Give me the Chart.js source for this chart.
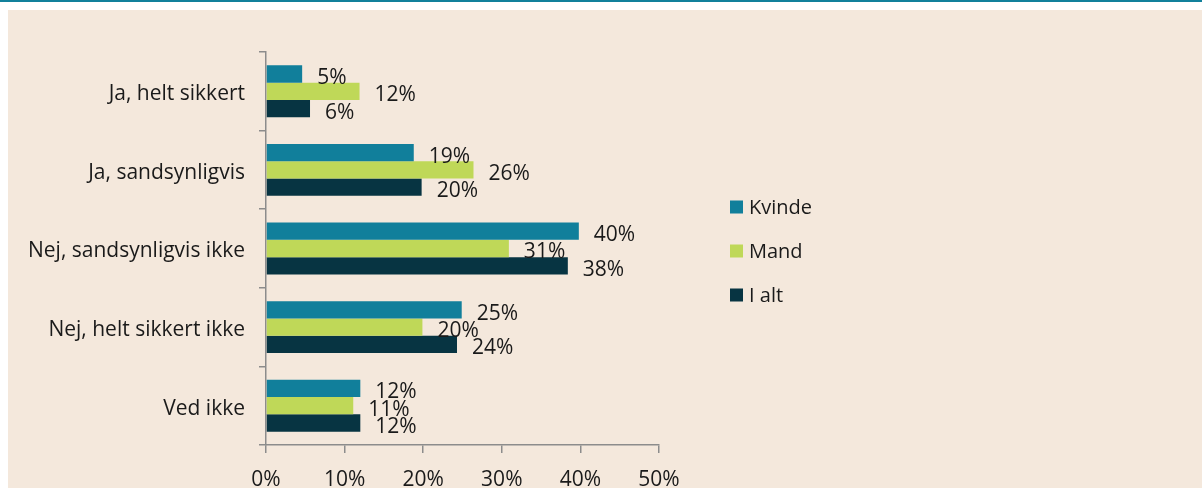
<!DOCTYPE html>
<html>
<head>
<meta charset="utf-8">
<script src="https://cdn.jsdelivr.net/npm/chart.js@4/dist/chart.umd.min.js"></script>
<style>
  html, body { margin: 0; padding: 0; background: #ffffff; }
  #topline { position: absolute; left: 0; top: 0; width: 1202px; height: 2px; background: #11809b; }
  #panel { position: absolute; left: 8px; top: 10px; width: 1194px; height: 478px; background: #f4e8dc; }
  canvas { display: block; }
</style>
</head>
<body>
<div id="topline"></div>
<div id="panel"><canvas id="chart" width="1194" height="478"></canvas></div>
<script>
// answers and shares (%)
const categories = ["Ja, helt sikkert", "Ja, sandsynligvis", "Nej, sandsynligvis ikke", "Nej, helt sikkert ikke", "Ved ikke"];
const seriesNames = ["Kvinde", "Mand", "I alt"];
const kvinde = [4.6, 18.8, 39.8, 24.9, 12.0];
const mand = [11.9, 26.4, 30.9, 19.9, 11.1];
const iAlt = [5.6, 19.8, 38.4, 24.3, 12.0];
const xTicks = [0, 10, 20, 30, 40, 50];

const COLORS = ["#117f9b", "#bfd858", "#073442"];
const FONT = "'Open Sans', 'Noto Sans', sans-serif";
const TEXT = "#1a1a1a";
const AXIS = "#8c8c8c";

// value labels right of each bar end
const barLabels = {
  id: "barLabels",
  afterDatasetsDraw(chart) {
    const { ctx } = chart;
    ctx.save();
    ctx.font = `21px ${FONT}`;
    ctx.fillStyle = TEXT;
    ctx.textAlign = "left";
    ctx.textBaseline = "middle";
    chart.data.datasets.forEach((ds, i) => {
      chart.getDatasetMeta(i).data.forEach((bar, j) => {
        ctx.fillText(`${Math.round(ds.data[j])}%`, bar.x + 15, bar.y + 4);
      });
    });
    ctx.restore();
  },
};

// legend stacked to the right of the plot
const sideLegend = {
  id: "sideLegend",
  afterDraw(chart) {
    const { ctx } = chart;
    const x = 722;
    const y0 = 197;
    const step = 44;
    ctx.save();
    ctx.font = `20px ${FONT}`;
    ctx.textAlign = "left";
    ctx.textBaseline = "middle";
    chart.data.datasets.forEach((ds, i) => {
      const y = y0 + i * step;
      ctx.fillStyle = ds.backgroundColor;
      ctx.fillRect(x, y - 6.5, 13, 13);
      ctx.fillStyle = TEXT;
      ctx.fillText(ds.label, x + 19, y + 1);
    });
    ctx.restore();
  },
};

new Chart(document.getElementById("chart"), {
  type: "bar",
  data: {
    labels: categories,
    datasets: [kvinde, mand, iAlt].map((data, i) => ({
      label: seriesNames[i],
      data,
      backgroundColor: COLORS[i],
      borderWidth: 0,
      categoryPercentage: 0.66,
      barPercentage: 1,
    })),
  },
  options: {
    indexAxis: "y",
    responsive: false,
    animation: false,
    layout: { padding: { top: 42, right: 543, left: 0, bottom: 0 } },
    plugins: {
      legend: { display: false },
      tooltip: { enabled: false },
    },
    scales: {
      x: {
        min: 0,
        max: 50,
        afterBuildTicks(scale) {
          scale.ticks = xTicks.map((value) => ({ value }));
        },
        afterFit(scale) {
          scale.height = 43;
        },
        ticks: {
          color: TEXT,
          font: { family: FONT, size: 21 },
          padding: 14,
          callback: (v) => `${v}%`,
        },
        grid: { drawOnChartArea: false, color: AXIS, tickLength: 8, lineWidth: 1.5 },
        border: { color: AXIS, width: 1.5 },
      },
      y: {
        afterFit(scale) {
          scale.width = 258;
        },
        ticks: {
          color: TEXT,
          font: { family: FONT, size: 21 },
          padding: 14,
          labelOffset: 3,
        },
        grid: { drawOnChartArea: false, color: AXIS, tickLength: 7, lineWidth: 1.5, offset: true },
        border: { color: AXIS, width: 1.5 },
      },
    },
  },
  plugins: [barLabels, sideLegend],
});
</script>
</body>
</html>
